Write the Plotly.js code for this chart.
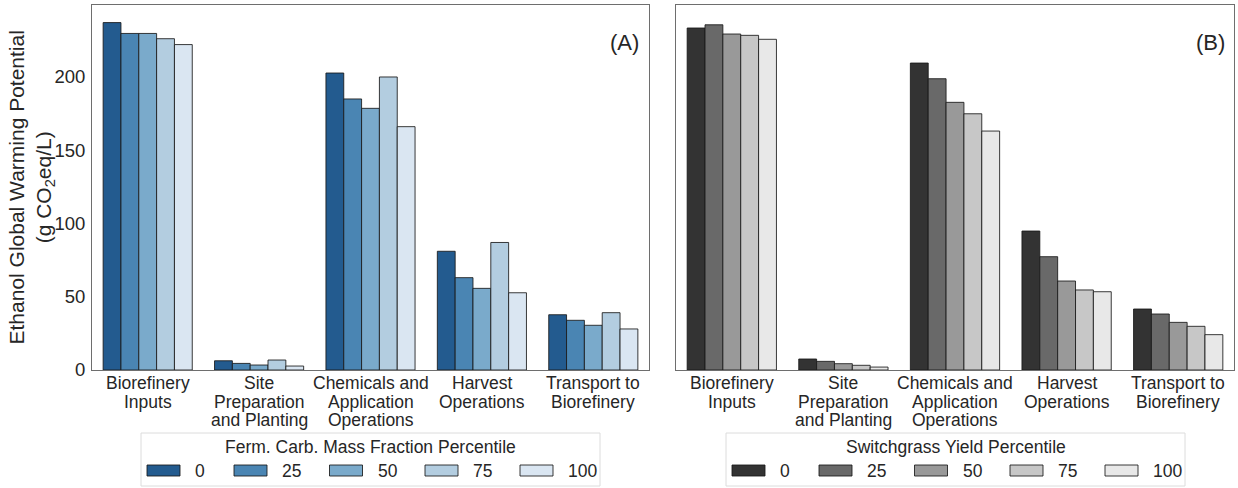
<!DOCTYPE html>
<html>
<head>
<meta charset="utf-8">
<script src="https://cdn.plot.ly/plotly-3.0.1.min.js"></script>
<style>html,body{margin:0;padding:0;background:#fff;}#chart{width:1238px;height:488px;}</style>
</head>
<body>
<div id="chart"></div>
<script>
// ---- data ----
const categories = ['Biorefinery Inputs', 'Site Preparation and Planting', 'Chemicals and Application Operations', 'Harvest Operations', 'Transport to Biorefinery'];
const categoryLines = [['Biorefinery', 'Inputs'], ['Site', 'Preparation', 'and Planting'], ['Chemicals and', 'Application', 'Operations'], ['Harvest', 'Operations'], ['Transport to', 'Biorefinery']];
const percentiles = ['0', '25', '50', '75', '100'];

// Panel A: fermentable carbohydrate mass fraction percentile
const fermP0   = [237.0, 6.3, 202.6, 81.0, 37.7];
const fermP25  = [229.6, 4.5, 184.9, 63.0, 33.9];
const fermP50  = [229.6, 3.4, 178.5, 55.7, 30.5];
const fermP75  = [226.0, 6.8, 199.9, 87.0, 39.1];
const fermP100 = [222.0, 2.7, 166.0, 52.7, 28.0];

// Panel B: switchgrass yield percentile
const yieldP0   = [233.3, 7.5, 209.4, 94.8, 41.6];
const yieldP25  = [235.5, 5.9, 198.7, 77.3, 38.2];
const yieldP50  = [229.2, 4.3, 182.6, 60.7, 32.5];
const yieldP75  = [228.3, 3.2, 174.8, 54.6, 29.8];
const yieldP100 = [225.6, 2.0, 163.0, 53.4, 24.1];

const yTicks = [0, 50, 100, 150, 200];
const legendTitleA = 'Ferm. Carb. Mass Fraction Percentile';
const legendTitleB = 'Switchgrass Yield Percentile';
const yTitle = 'Ethanol Global Warming Potential<br>(g CO<sub>2</sub>eq/L)';

// ---- styles ----
const blues = ['#235b8f', '#4a85b3', '#7aaacb', '#b3cde0', '#dae6f2'];
const grays = ['#333333', '#696969', '#999999', '#c7c7c7', '#e8e8e8'];
const edge = 'rgba(25,25,25,0.85)';
const textColor = '#262626';
const FONT = 'Liberation Sans, Arial, sans-serif';
const FS = 17.5;
const W = 1238, H = 488;
const px = x => x / W;
const py = y => 1 - y / H;

const fermSeries = [fermP0, fermP25, fermP50, fermP75, fermP100];
const yieldSeries = [yieldP0, yieldP25, yieldP50, yieldP75, yieldP100];

const traces = [];
fermSeries.forEach((vals, i) => {
  traces.push({type: 'bar', x: categories, y: vals, name: percentiles[i], xaxis: 'x', yaxis: 'y',
    marker: {color: blues[i], line: {color: edge, width: 1}}, showlegend: false, offsetgroup: 'a' + i});
});
yieldSeries.forEach((vals, i) => {
  traces.push({type: 'bar', x: categories, y: vals, name: percentiles[i], xaxis: 'x2', yaxis: 'y2',
    marker: {color: grays[i], line: {color: edge, width: 1}}, showlegend: false, offsetgroup: 'b' + i});
});

const shapes = [];
const annotations = [];

// ---- category labels (one annotation per line, tight line spacing) ----
const lineY = [383, 401.5, 420];
['x', 'x2'].forEach(xr => {
  categories.forEach((c, ci) => {
    categoryLines[ci].forEach((ln, li) => {
      annotations.push({xref: xr, yref: 'paper', x: c, y: py(lineY[li]), text: ln, showarrow: false,
        xanchor: 'center', yanchor: 'middle', font: {family: FONT, size: FS, color: textColor}});
    });
  });
});

// ---- y-axis title ----
annotations.push({xref: 'paper', yref: 'paper', x: px(31), y: py(187.5), text: yTitle, textangle: -90,
  showarrow: false, xanchor: 'center', yanchor: 'middle', font: {family: FONT, size: 21, color: textColor}});

// ---- manual legends (patch + label), positions in pixels ----
const itemOffsets = [0, 87, 182.5, 278, 373];
function addLegend(boxL, boxR, startX, title, colors) {
  const top = 433, bot = 486;
  shapes.push({type: 'rect', xref: 'paper', yref: 'paper', x0: px(boxL), x1: px(boxR), y0: py(bot), y1: py(top),
    line: {color: '#dcdcdc', width: 1}, fillcolor: 'rgba(255,255,255,0.8)', layer: 'below'});
  annotations.push({xref: 'paper', yref: 'paper', x: px((boxL + boxR) / 2), y: py(447), text: title, showarrow: false,
    xanchor: 'center', yanchor: 'middle', font: {family: FONT, size: FS, color: textColor}});
  percentiles.forEach((p, i) => {
    const x0 = startX + itemOffsets[i];
    shapes.push({type: 'rect', xref: 'paper', yref: 'paper', x0: px(x0), x1: px(x0 + 33), y0: py(476), y1: py(465),
      fillcolor: colors[i], line: {color: edge, width: 1}});
    annotations.push({xref: 'paper', yref: 'paper', x: px(x0 + 46), y: py(471), text: p, showarrow: false,
      xanchor: 'left', yanchor: 'middle', font: {family: FONT, size: FS, color: textColor}});
  });
}
addLegend(141, 600, 147, legendTitleA, blues);
addLegend(726, 1185, 732, legendTitleB, grays);

annotations.push({xref: 'paper', yref: 'paper', x: px(641), y: py(42), text: '(A)', showarrow: false,
  xanchor: 'right', yanchor: 'middle', font: {family: FONT, size: 22, color: textColor}});
annotations.push({xref: 'paper', yref: 'paper', x: px(1227), y: py(42), text: '(B)', showarrow: false,
  xanchor: 'right', yanchor: 'middle', font: {family: FONT, size: 22, color: textColor}});

const yDomain = [py(370), py(5)];
const xAxisCommon = {type: 'category', categoryarray: categories, showline: true, mirror: true, linecolor: '#6e6e6e', linewidth: 1,
  showgrid: false, zeroline: false, ticks: '', showticklabels: false, fixedrange: true};
const yAxisCommon = {range: [0, 249], showline: true, mirror: true, linecolor: '#6e6e6e', linewidth: 1,
  showgrid: false, zeroline: false, ticks: '', tickvals: yTicks, tickfont: {family: FONT, size: 18.5, color: textColor}, fixedrange: true};

const layout = {
  width: W, height: H,
  margin: {l: 0, r: 0, t: 0, b: 0},
  paper_bgcolor: '#ffffff', plot_bgcolor: '#ffffff',
  font: {family: FONT, color: textColor},
  barmode: 'group', bargap: 0.2, bargroupgap: 0,
  showlegend: false,
  xaxis: Object.assign({}, xAxisCommon, {domain: [px(92), px(649)], anchor: 'y'}),
  xaxis2: Object.assign({}, xAxisCommon, {domain: [px(676), px(1234)], anchor: 'y2'}),
  yaxis: Object.assign({}, yAxisCommon, {domain: yDomain, anchor: 'x', ticklabelstandoff: 2}),
  yaxis2: Object.assign({}, yAxisCommon, {domain: yDomain, anchor: 'x2', showticklabels: false}),
  shapes: shapes,
  annotations: annotations
};

Plotly.newPlot('chart', traces, layout, {displayModeBar: false, staticPlot: true});
</script>
</body>
</html>
